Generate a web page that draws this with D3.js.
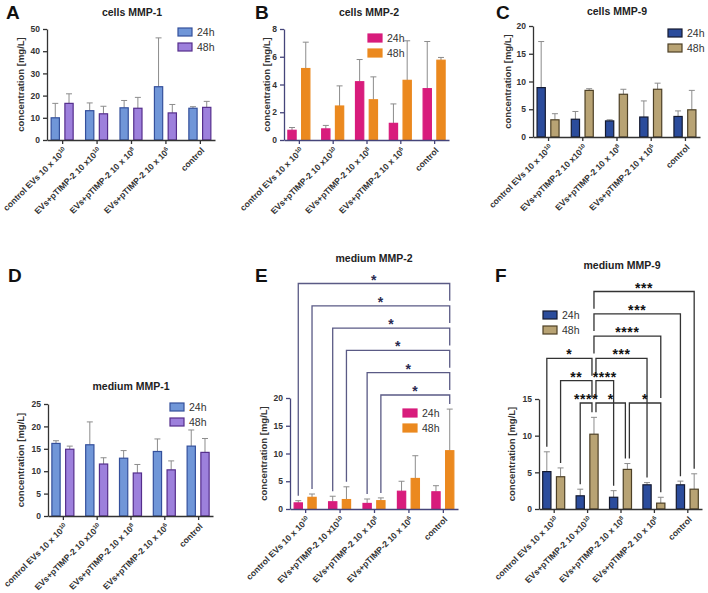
<!DOCTYPE html>
<html>
<head>
<meta charset="utf-8">
<script src="https://cdn.jsdelivr.net/npm/d3@7"></script>
<style>
body { margin: 0; background: #fff; }
svg { display: block; }
text { font-family: Arial, "Liberation Sans", Helvetica, sans-serif; }
</style>
</head>
<body>
<script>
// categories (tick label text + superscript exponent)
var groups = ["g0", "g1", "g2", "g3", "g4"];
var groupLabels = ["control EVs 10 x 10", "EVs+pTIMP-2 10 x10", "EVs+pTIMP-2 10 x 10", "EVs+pTIMP-2 10 x 10", "control"];
var groupExps = ["10", "10", "8", "6", ""];
var series = ["24h", "48h"];

// A - cells MMP-1
var cellsMMP1_24 = [10.0, 13.2, 14.5, 24.0, 14.3];
var cellsMMP1_24err = [16.5, 16.7, 17.8, 46.0, 15.0];
var cellsMMP1_48 = [16.5, 11.8, 14.3, 12.2, 14.7];
var cellsMMP1_48err = [20.8, 15.2, 19.2, 16.0, 17.4];

// B - cells MMP-2
var cellsMMP2_24 = [0.7, 0.8, 4.2, 1.2, 3.7];
var cellsMMP2_24err = [0.9, 1.05, 5.8, 2.6, 7.1];
var cellsMMP2_48 = [5.15, 2.45, 2.9, 4.3, 5.75];
var cellsMMP2_48err = [7.05, 3.9, 4.55, 7.15, 5.95];

// C - cells MMP-9
var cellsMMP9_24 = [8.9, 3.2, 2.9, 3.6, 3.7];
var cellsMMP9_24err = [17.2, 4.6, 3.1, 6.5, 4.7];
var cellsMMP9_48 = [3.1, 8.4, 7.7, 8.6, 4.9];
var cellsMMP9_48err = [4.2, 8.7, 8.6, 9.7, 8.4];

// D - medium MMP-1
var mediumMMP1_24 = [16.2, 15.9, 12.9, 14.4, 15.6];
var mediumMMP1_24err = [16.8, 21.0, 14.6, 17.2, 19.2];
var mediumMMP1_48 = [14.9, 11.6, 9.6, 10.3, 14.2];
var mediumMMP1_48err = [15.6, 13.0, 11.5, 12.3, 17.3];

// E - medium MMP-2
var mediumMMP2_24 = [1.1, 1.3, 1.0, 3.2, 3.1];
var mediumMMP2_24err = [1.5, 2.3, 1.8, 5.0, 4.2];
var mediumMMP2_48 = [2.1, 1.7, 1.5, 5.5, 10.5];
var mediumMMP2_48err = [2.7, 4.0, 2.0, 9.6, 18.0];
// comparisons: [group, series] -> [group, series], label, level
var mediumMMP2_stats = [
  [[0, 0], [4, 1], "*", 5],
  [[0, 1], [4, 1], "*", 4],
  [[1, 0], [4, 1], "*", 3],
  [[1, 1], [4, 1], "*", 2],
  [[2, 0], [4, 1], "*", 1],
  [[2, 1], [4, 1], "*", 0]
];

// F - medium MMP-9
var mediumMMP9_24 = [5.1, 1.8, 1.6, 3.3, 3.3];
var mediumMMP9_24err = [7.8, 2.7, 2.5, 3.6, 3.8];
var mediumMMP9_48 = [4.4, 10.2, 5.4, 0.8, 2.7];
var mediumMMP9_48err = [5.6, 12.5, 6.2, 1.6, 4.8];
var mediumMMP9_stats = [
  [[1, 1], [4, 1], "***", 5],
  [[1, 1], [4, 0], "***", 4],
  [[1, 1], [3, 1], "****", 3],
  [[0, 0], [1, 1], "*", 2],
  [[1, 1], [3, 0], "***", 2],
  [[0, 1], [1, 1], "**", 1],
  [[1, 1], [2, 0], "****", 1],
  [[1, 0], [1, 1], "****", 0],
  [[1, 1], [2, 1], "*", 0],
  [[2, 1], [3, 1], "*", 0]
];

var width = 708,
    height = 593;

var svg = d3.select("body").append("svg")
    .attr("width", width)
    .attr("height", height);

var blueViolet = { fill: ["#7096d8", "#9d80dc"], stroke: ["#34509c", "#552e8c"] };
var pinkOrange = { fill: ["#d81c7c", "#eb891f"], stroke: ["#d81c7c", "#eb891f"] };
var navyTan = { fill: ["#2b4c9c", "#b8a374"], stroke: ["#141a30", "#4d4026"] };

function panel(p) {
  var g = svg.append("g");

  var x = d3.scalePoint().domain(groups).range([p.left, p.right]).padding(0.44);
  var sub = d3.scaleBand().domain(series).range([-11, 11]).paddingInner(0.4);
  var y = d3.scaleLinear().domain([0, p.max]).range([p.y0, p.yTop]);

  // letter + title
  g.append("text").attr("x", p.lx).attr("y", p.ly)
    .attr("font-size", 19).attr("font-weight", "bold").attr("fill", "#111").text(p.letter);
  g.append("text").attr("x", p.tx).attr("y", p.ty).attr("text-anchor", "middle")
    .attr("font-size", 10.5).attr("font-weight", "bold").attr("fill", "#222").text(p.title);

  // bars
  var rows = [];
  groups.forEach(function(gr, i) {
    series.forEach(function(s, j) {
      rows.push({ g: gr, i: i, s: s, j: j, v: p.means[j][i], e: p.errs[j][i] });
    });
  });

  var barX = function(d) { return x(d.g) + sub(d.s); };

  // error bars (upper only)
  var eb = g.selectAll(".err").data(rows).enter().append("g").attr("class", "err")
    .attr("stroke", "#8c8c8c").attr("stroke-width", 1);
  eb.append("line")
    .attr("x1", function(d) { return barX(d) + sub.bandwidth() / 2; })
    .attr("x2", function(d) { return barX(d) + sub.bandwidth() / 2; })
    .attr("y1", function(d) { return y(d.v); })
    .attr("y2", function(d) { return y(d.e); });
  eb.append("line")
    .attr("x1", function(d) { return barX(d) + sub.bandwidth() / 2 - 3; })
    .attr("x2", function(d) { return barX(d) + sub.bandwidth() / 2 + 3; })
    .attr("y1", function(d) { return y(d.e); })
    .attr("y2", function(d) { return y(d.e); });

  g.selectAll(".bar").data(rows).enter().append("rect").attr("class", "bar")
    .attr("x", barX)
    .attr("width", sub.bandwidth())
    .attr("y", function(d) { return y(d.v); })
    .attr("height", function(d) { return p.y0 - y(d.v); })
    .attr("fill", function(d) { return p.colors.fill[d.j]; })
    .attr("stroke", function(d) { return p.colors.stroke[d.j]; })
    .attr("stroke-width", 1.2);

  // axes
  var ya = g.append("g").attr("transform", "translate(" + p.left + ",0)")
    .call(d3.axisLeft(y).tickValues(p.ticks).tickSize(4).tickSizeOuter(0));
  var xa = g.append("g").attr("transform", "translate(0," + p.y0 + ")")
    .call(d3.axisBottom(x).tickSize(4).tickSizeOuter(0).tickFormat(""));
  [ya, xa].forEach(function(a) {
    a.selectAll("path, line").attr("stroke", p.axisColor).attr("stroke-width", 1.3);
  });
  ya.selectAll("text").attr("font-size", 8.5).attr("font-weight", "bold").attr("fill", "#333")
    .attr("font-family", "Arial, 'Liberation Sans', sans-serif");

  // rotated category labels
  var lab = g.selectAll(".xlab").data(groups).enter().append("text").attr("class", "xlab")
    .attr("transform", function(d) { return "translate(" + (x(d) + 3) + "," + (p.y0 + 9) + ") rotate(-45)"; })
    .attr("text-anchor", "end")
    .attr("font-size", 8.6).attr("font-weight", "bold").attr("fill", "#333");
  lab.append("tspan").attr("dy", "0.35em").text(function(d, i) { return groupLabels[i]; });
  lab.append("tspan").attr("dy", -3).attr("font-size", 6).text(function(d, i) { return groupExps[i]; });

  // y label
  g.append("text")
    .attr("transform", "translate(" + p.ylx + "," + ((p.y0 + p.yTop) / 2) + ") rotate(-90)")
    .attr("text-anchor", "middle").attr("font-size", 9.5).attr("font-weight", "bold").attr("fill", "#333")
    .text("concentration [mg/L]");

  // legend
  series.forEach(function(s, j) {
    var cy = p.legY + j * 15;
    g.append("rect").attr("x", p.legX).attr("y", cy - 4).attr("width", 14).attr("height", 8)
      .attr("fill", p.colors.fill[j]).attr("stroke", p.colors.stroke[j]).attr("stroke-width", 1.2);
    g.append("text").attr("x", p.legX + 19).attr("y", cy).attr("dy", "0.35em")
      .attr("font-size", 10.5).attr("fill", "#333").text(s);
  });

  if (p.stats) drawStats(g, p, x, sub, y);
}

function drawStats(g, p, x, sub, y) {
  var step = 22.3;
  var same = function(a, b) { return a[0] === b[0] && a[1] === b[1]; };
  var bx = function(b) { return x(groups[b[0]]) + sub(series[b[1]]) + sub.bandwidth() / 2; };
  var ly = function(l) { return p.statBase - l * step; };
  var errTop = function(b) { return y(p.errs[b[1]][b[0]]); };

  p.stats.forEach(function(st) {
    var a = st[0], b = st[1], lv = st[3];
    var x1 = bx(a), x2 = bx(b);
    p.stats.forEach(function(o) {
      if (o === st || o[3] !== lv) return;
      if (same(o[1], a)) x1 += 2;
      if (same(o[0], b)) x2 -= 2;
    });
    var yl = ly(lv);
    var bottom = function(bar) {
      var lower = p.stats.filter(function(o) {
        return o[3] < lv && (same(o[0], bar) || same(o[1], bar));
      }).map(function(o) { return ly(o[3]); });
      return (lower.length ? d3.min(lower) : errTop(bar)) - 5;
    };
    g.append("path")
      .attr("d", d3.line()([[x1, bottom(a)], [x1, yl], [x2, yl], [x2, bottom(b)]]))
      .attr("fill", "none").attr("stroke", p.statColor).attr("stroke-width", 1.3);
    g.append("text").attr("x", (x1 + x2) / 2).attr("y", yl + 1)
      .attr("text-anchor", "middle").attr("font-size", 14).attr("font-weight", "bold")
      .attr("letter-spacing", 0.6).attr("fill", p.starColor).text(st[2]);
  });
}

panel({ letter: "A", lx: 6, ly: 19, title: "cells MMP-1", tx: 132, ty: 16,
  left: 47, right: 215, y0: 140, yTop: 29, max: 50, ticks: [0, 10, 20, 30, 40, 50],
  means: [cellsMMP1_24, cellsMMP1_48], errs: [cellsMMP1_24err, cellsMMP1_48err],
  colors: blueViolet, axisColor: "#333", ylx: 24, legX: 178, legY: 32 });

panel({ letter: "B", lx: 255, ly: 19, title: "cells MMP-2", tx: 369, ty: 16,
  left: 284, right: 449, y0: 140, yTop: 29, max: 8, ticks: [0, 2, 4, 6, 8],
  means: [cellsMMP2_24, cellsMMP2_48], errs: [cellsMMP2_24err, cellsMMP2_48err],
  colors: pinkOrange, axisColor: "#45457a", ylx: 270, legX: 368, legY: 38 });

panel({ letter: "C", lx: 496, ly: 19, title: "cells MMP-9", tx: 617, ty: 15,
  left: 533, right: 700, y0: 137, yTop: 26, max: 20, ticks: [0, 5, 10, 15, 20],
  means: [cellsMMP9_24, cellsMMP9_48], errs: [cellsMMP9_24err, cellsMMP9_48err],
  colors: navyTan, axisColor: "#333", ylx: 511, legX: 668, legY: 33 });

panel({ letter: "D", lx: 8, ly: 282, title: "medium MMP-1", tx: 131, ty: 390,
  left: 48, right: 213, y0: 516, yTop: 404, max: 25, ticks: [0, 5, 10, 15, 20, 25],
  means: [mediumMMP1_24, mediumMMP1_48], errs: [mediumMMP1_24err, mediumMMP1_48err],
  colors: blueViolet, axisColor: "#333", ylx: 24, legX: 170, legY: 407 });

panel({ letter: "E", lx: 255, ly: 282, title: "medium MMP-2", tx: 374, ty: 262,
  left: 290, right: 458, y0: 509, yTop: 398, max: 20, ticks: [0, 5, 10, 15, 20],
  means: [mediumMMP2_24, mediumMMP2_48], errs: [mediumMMP2_24err, mediumMMP2_48err],
  colors: pinkOrange, axisColor: "#45457a", ylx: 267, legX: 403, legY: 413,
  stats: mediumMMP2_stats, statBase: 395, statColor: "#5a5a85", starColor: "#2a2a50" });

panel({ letter: "F", lx: 495, ly: 282, title: "medium MMP-9", tx: 622, ty: 269,
  left: 539, right: 702, y0: 509, yTop: 399, max: 15, ticks: [0, 5, 10, 15],
  means: [mediumMMP9_24, mediumMMP9_48], errs: [mediumMMP9_24err, mediumMMP9_48err],
  colors: navyTan, axisColor: "#333", ylx: 515, legX: 543, legY: 315,
  stats: mediumMMP9_stats, statBase: 403, statColor: "#333", starColor: "#111" });
</script>
</body>
</html>
